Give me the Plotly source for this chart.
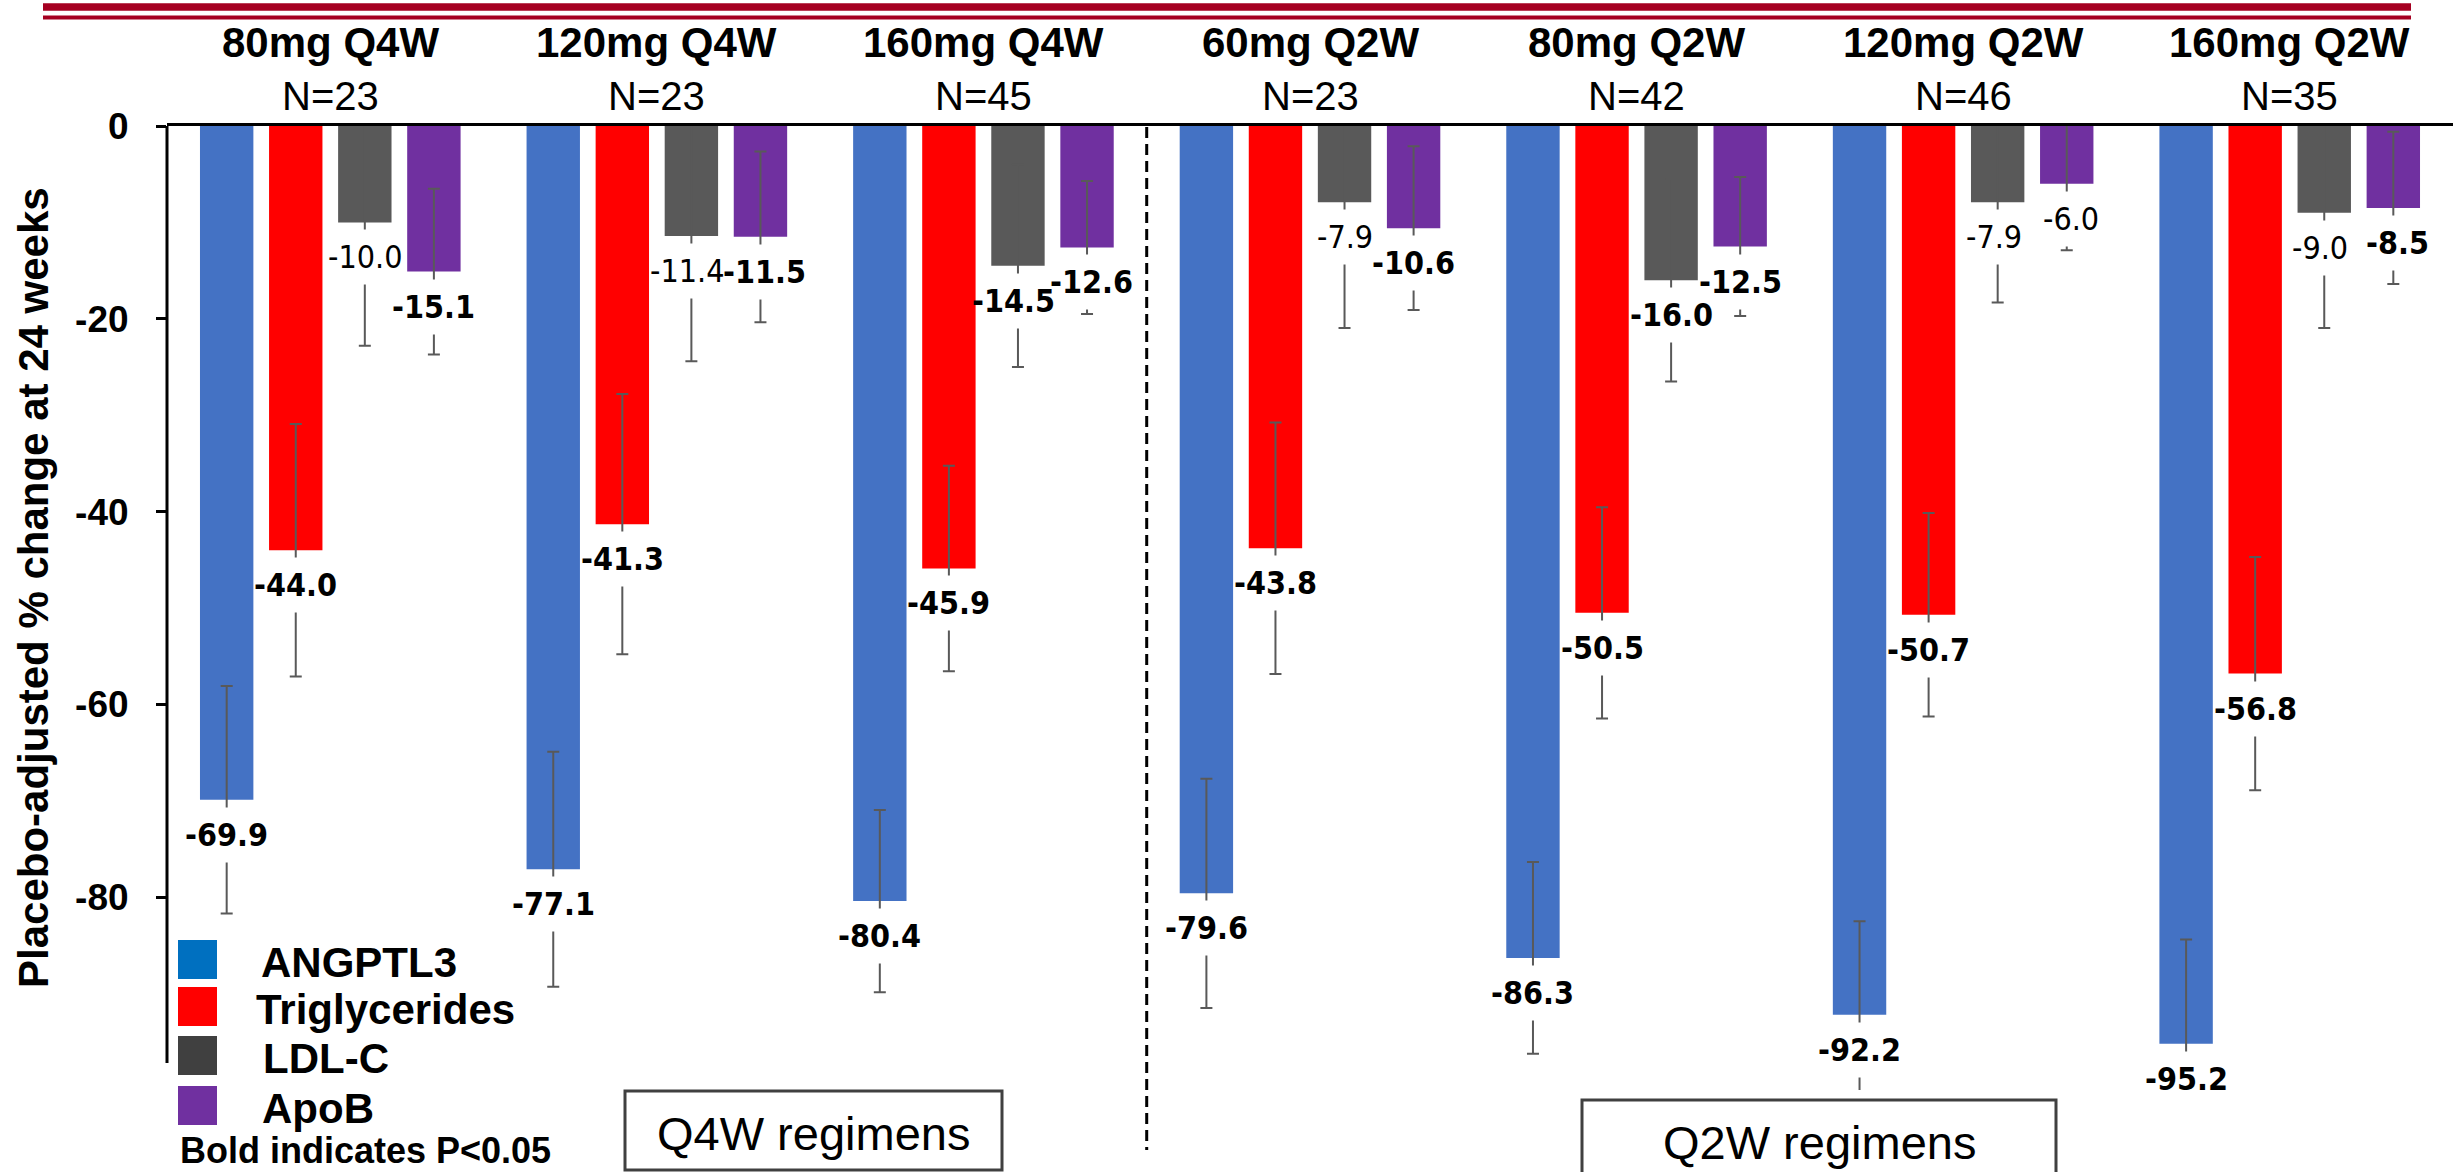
import plotly.graph_objects as go

# ---- data -------------------------------------------------------------
regimens = ["80mg Q4W", "120mg Q4W", "160mg Q4W", "60mg Q2W",
            "80mg Q2W", "120mg Q2W", "160mg Q2W"]
n_patients = [23, 23, 45, 23, 42, 46, 35]

series_names = ["ANGPTL3", "Triglycerides", "LDL-C", "ApoB"]

angptl3 = [-69.9, -77.1, -80.4, -79.6, -86.3, -92.2, -95.2]
triglycerides = [-44.0, -41.3, -45.9, -43.8, -50.5, -50.7, -56.8]
ldl_c = [-10.0, -11.4, -14.5, -7.9, -16.0, -7.9, -9.0]
apob = [-15.1, -11.5, -12.6, -10.6, -12.5, -6.0, -8.5]

angptl3_err = [11.8, 12.2, 9.45, 11.9, 9.95, 9.7, 10.8]
triglycerides_err = [13.1, 13.5, 10.65, 13.05, 10.95, 10.55, 12.1]
ldl_c_err = [12.8, 13.0, 10.5, 13.05, 10.5, 10.4, 11.95]
apob_err = [8.6, 8.85, 6.9, 8.5, 7.2, 6.9, 7.9]

# significance (P<0.05) per value -> bold label
angptl3_sig = [True] * 7
triglycerides_sig = [True] * 7
ldl_c_sig = [False, False, True, False, True, False, False]
apob_sig = [True, True, True, True, True, False, True]

y_ticks = [0, -20, -40, -60, -80]
y_title = "Placebo-adjusted % change at 24 weeks"
note_text = "Bold indicates P<0.05"
group_boxes = ["Q4W regimens", "Q2W regimens"]

# ---- styling ----------------------------------------------------------
bar_colors = ["#4472C4", "#FF0000", "#595959", "#7030A0"]
legend_colors = ["#0070C0", "#FF0000", "#404040", "#7030A0"]
ERR_COLOR = "#595959"
BASE = "Liberation Sans, Arial, sans-serif"
NARROW = "Liberation Sans Narrow, Arial Narrow, DejaVu Sans Condensed, Liberation Sans, sans-serif"

W, H = 2463, 1172
ML, MR, MT, MB = 167, 10, 126, 82
PW = W - ML - MR
PH = H - MT - MB

BAR_W = 0.1635
SLOT = 0.2115
FIRST = -0.399
LABEL_DROP = 35      # px between bar end and value label centre


def px_x(px):
    return (px - ML) / PW


def px_y(px):
    return (H - MB - px) / PH


values = [angptl3, triglycerides, ldl_c, apob]
errors = [angptl3_err, triglycerides_err, ldl_c_err, apob_err]
sigs = [angptl3_sig, triglycerides_sig, ldl_c_sig, apob_sig]
xs = list(range(len(regimens)))

fig = go.Figure()
annotations = []

for k, name in enumerate(series_names):
    off = FIRST + k * SLOT
    fig.add_trace(go.Bar(
        x=xs, y=values[k], name=name,
        offset=off, width=BAR_W,
        marker=dict(color=bar_colors[k], line=dict(width=0)),
        error_y=dict(type="data", array=errors[k], visible=True,
                     color=ERR_COLOR, thickness=2, width=6),
        showlegend=False,
    ))
    for i, v in enumerate(values[k]):
        cx = i + off + BAR_W / 2
        # nudge neighbouring labels apart when they sit at the same height
        nudge = 0
        if k == 2 and abs(ldl_c[i] - apob[i]) < 2:
            nudge = -4
        elif k == 3 and abs(ldl_c[i] - apob[i]) < 2:
            nudge = 4
        # small white gap in the error bar behind the value label
        annotations.append(dict(
            x=cx, y=v, xref="x", yref="y", text=" ", showarrow=False,
            xanchor="center", yanchor="middle", yshift=-LABEL_DROP,
            width=10, height=54, bgcolor="white", borderpad=0,
            font=dict(size=10),
        ))
        txt = f"{v:.1f}"
        if sigs[k][i]:
            txt = f"<b>{txt}</b>"
        annotations.append(dict(
            x=cx, y=v, xref="x", yref="y",
            text=txt, showarrow=False, xanchor="center", yanchor="middle",
            yshift=-LABEL_DROP, xshift=nudge,
            font=dict(family=NARROW, size=32, color="black"),
        ))

# regimen headers
for i, (reg, n) in enumerate(zip(regimens, n_patients)):
    annotations.append(dict(
        x=i, y=px_y(42), xref="x", yref="paper", text=f"<b>{reg}</b>",
        showarrow=False, xanchor="center", yanchor="middle",
        font=dict(family=BASE, size=42, color="black")))
    annotations.append(dict(
        x=i, y=px_y(96), xref="x", yref="paper", text=f"N={n}",
        showarrow=False, xanchor="center", yanchor="middle",
        font=dict(family=BASE, size=40, color="black")))

# y-axis title
annotations.append(dict(
    x=px_x(33), y=px_y(588), xref="paper", yref="paper",
    text=f"<b>{y_title}</b>", textangle=-90, showarrow=False,
    xanchor="center", yanchor="middle",
    font=dict(family=BASE, size=42, color="black")))

shapes = []

# custom legend
sq_tops = [940, 987, 1036, 1086]
text_x = [259, 254, 261, 260]
for k, name in enumerate(series_names):
    shapes.append(dict(
        type="rect", xref="paper", yref="paper",
        x0=px_x(178), x1=px_x(217), y0=px_y(sq_tops[k]), y1=px_y(sq_tops[k] + 39),
        fillcolor=legend_colors[k], line=dict(width=0), layer="above"))
    annotations.append(dict(
        x=px_x(text_x[k]), y=px_y(sq_tops[k] + 22), xref="paper", yref="paper",
        text=f"<b>{name}</b>", showarrow=False, xanchor="left", yanchor="middle",
        font=dict(family=BASE, size=42, color="black")))

annotations.append(dict(
    x=px_x(178), y=px_y(1150), xref="paper", yref="paper",
    text=f"<b>{note_text}</b>", showarrow=False, xanchor="left", yanchor="middle",
    font=dict(family=BASE, size=36, color="black")))

# regimen group boxes
box_geom = [(625, 1002, 1091, 1170, 1133), (1582, 2056, 1100, 1195, 1142)]
for label, (bx0, bx1, by0, by1, ty) in zip(group_boxes, box_geom):
    shapes.append(dict(
        type="rect", xref="paper", yref="paper",
        x0=px_x(bx0), x1=px_x(bx1), y0=px_y(by1), y1=px_y(by0),
        fillcolor="white", line=dict(color="#404040", width=3), layer="above"))
    annotations.append(dict(
        x=px_x((bx0 + bx1) / 2), y=px_y(ty), xref="paper", yref="paper",
        text=label, showarrow=False, xanchor="center", yanchor="middle",
        font=dict(family=BASE, size=47, color="black")))

# divider between Q4W and Q2W regimens
shapes.append(dict(
    type="line", xref="x", yref="paper", x0=2.5, x1=2.5,
    y0=px_y(127), y1=px_y(1150),
    line=dict(color="black", width=3, dash="11px,6px")))

# y-axis line
shapes.append(dict(
    type="line", xref="paper", yref="paper", x0=0, x1=0,
    y0=1, y1=px_y(1063), line=dict(color="black", width=3)))

# double rule across the top
shapes.append(dict(
    type="rect", xref="paper", yref="paper",
    x0=px_x(43), x1=px_x(2411), y0=px_y(10.7), y1=px_y(3.3),
    fillcolor="#A50021", line=dict(width=0)))
shapes.append(dict(
    type="rect", xref="paper", yref="paper",
    x0=px_x(43), x1=px_x(2411), y0=px_y(19.5), y1=px_y(15.5),
    fillcolor="#A50021", line=dict(width=0)))

fig.update_layout(
    width=W, height=H,
    margin=dict(l=ML, r=MR, t=MT, b=MB, pad=0),
    paper_bgcolor="white", plot_bgcolor="white",
    barmode="overlay",
    showlegend=False,
    annotations=annotations,
    shapes=shapes,
    xaxis=dict(
        range=[-0.5, len(regimens) - 0.5], side="top",
        showline=True, linecolor="black", linewidth=3,
        showticklabels=False, ticks="", showgrid=False, zeroline=False,
        fixedrange=True,
    ),
    yaxis=dict(
        range=[-100, 0], tickvals=y_ticks, ticktext=[str(t) for t in y_ticks],
        ticks="outside", ticklen=10, tickwidth=3, tickcolor="black",
        showline=False, showgrid=False, zeroline=False,
        ticklabelstandoff=20,
        tickfont=dict(family=BASE, size=37, color="black", weight="bold"),
        fixedrange=True,
    ),
)

fig.write_html("out.html")
